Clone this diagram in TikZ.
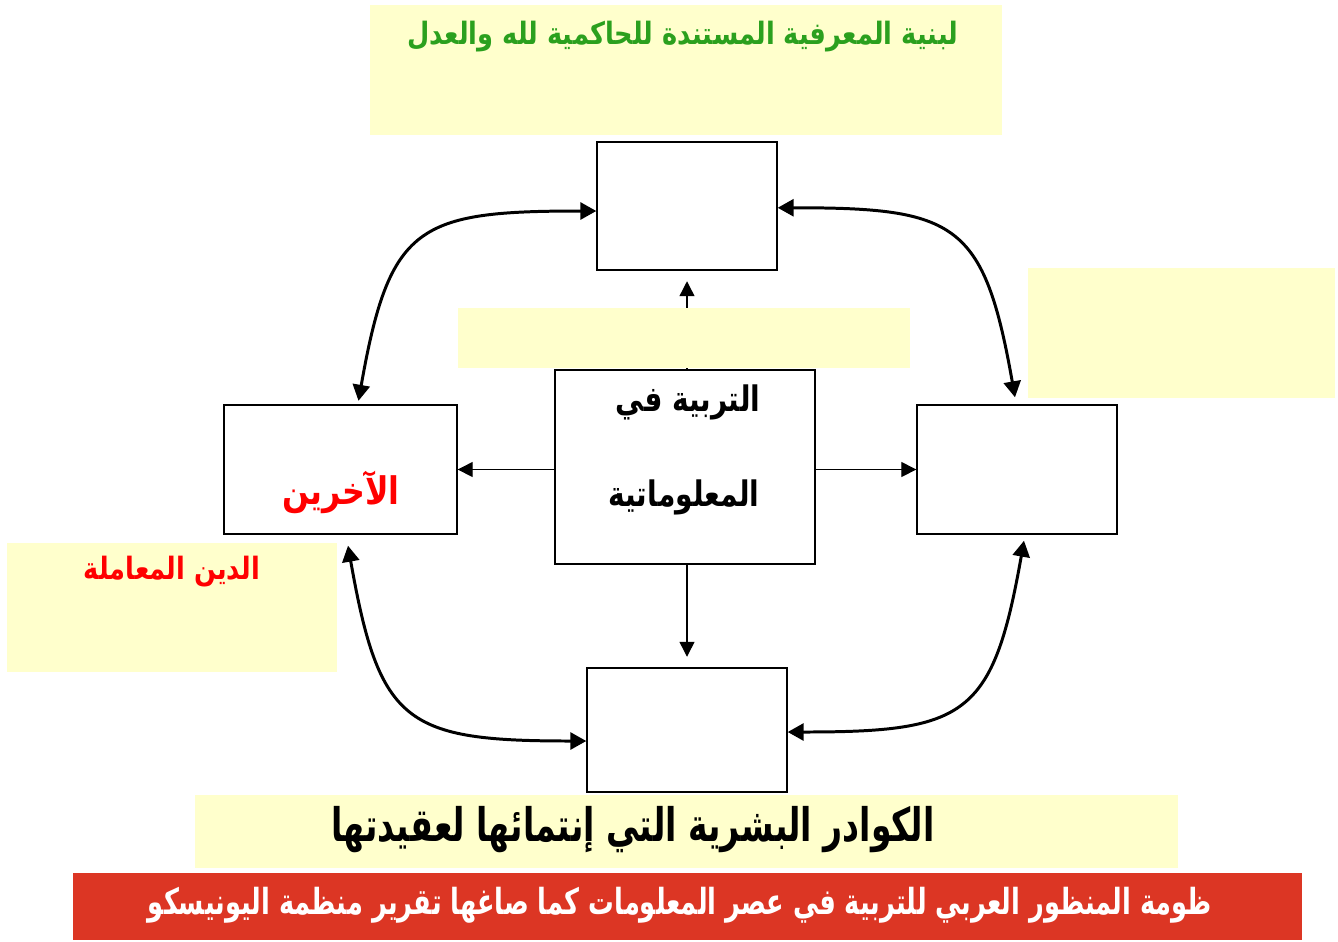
\documentclass[tikz,border=0pt]{standalone}
\usepackage{fontspec}
\usepackage{graphicx}
\usetikzlibrary{arrows.meta,positioning,calc}
\newfontfamily\arabicfont[Script=Arabic]{DejaVu Sans}
\TeXXeTstate=1
\definecolor{notebg}{HTML}{FFFFCC}
\definecolor{bannerred}{HTML}{DC3624}
\definecolor{notegreen}{HTML}{2BA01E}
\tikzstyle{whitebox}=[draw=black,line width=0.8pt,fill=white,inner sep=0pt]
\tikzstyle{notebox}=[fill=notebg,inner sep=0pt]
\tikzstyle{link}=[line width=0.75pt,-{Triangle[length=0.3cm,width=0.3cm]}]
\tikzstyle{twoway}=[line width=1.7pt,{Triangle[length=0.32cm,width=0.34cm]}-{Triangle[length=0.32cm,width=0.34cm]},looseness=1.5]
\tikzstyle{label}=[inner sep=0pt]
% [vertical stretch]{size}{text}
\newcommand{\artext}[3][1.2]{\scalebox{1}[#1]{\fontsize{#2}{#2}\selectfont\arabicfont\bfseries #3}}

\begin{document}
\begin{tikzpicture}[x=0.02cm,y=-0.02cm]
\useasboundingbox (0,0) rectangle (1338,941);
% the five boxes
\node[whitebox,minimum width=3.6cm,minimum height=2.56cm] (top) at (687,206) {};
\node[whitebox,minimum width=5.2cm,minimum height=3.88cm] (centre) at (685,467) {};
\node[whitebox,minimum width=4.66cm,minimum height=2.58cm] (left) at (340.5,469.5) {};
\node[whitebox,minimum width=4cm,minimum height=2.58cm] (right) at (1017,469.5) {};
\node[whitebox,minimum width=4cm,minimum height=2.48cm] (bottom) at (687,730) {};
% straight links from the centre
\draw[link,shorten >=6pt] (centre.north -| top.south) -- (top.south);
\draw[link] (centre.west |- left.east) -- (left.east);
\draw[link] (centre.east |- right.west) -- (right.west);
\draw[link,shorten >=6pt] (centre.south -| bottom.north) -- (bottom.north);
% curved two-way links round the outside
\draw[twoway] (top.west |- 0,211) to[out=180,in=80] ([xshift=0.36cm,yshift=2pt]left.north);
\draw[twoway] ([yshift=-1pt]top.east) to[out=0,in=100] ([xshift=-0.04cm,yshift=0.14cm]right.north);
\draw[twoway] ([xshift=0.15cm,yshift=-0.22cm]left.south) to[out=-80,in=180] ([yshift=-0.22cm]bottom.west);
\draw[twoway] ([xshift=0.14cm,yshift=-0.12cm]right.south) to[out=-100,in=0] ([yshift=-0.04cm]bottom.east);
% yellow notes (drawn over the links)
\node[notebox,minimum width=12.64cm,minimum height=2.6cm] (topnote) at (686,70) {};
\node[notebox,minimum width=9.04cm,minimum height=1.2cm] (midnote) at (684,338) {};
\node[notebox,minimum width=6.14cm,minimum height=2.6cm] (rightnote) at (1181.5,333) {};
\node[notebox,minimum width=6.6cm,minimum height=2.58cm] (leftnote) at (172,607.5) {};
\node[notebox,minimum width=19.66cm,minimum height=1.46cm] (bottomnote) at (686.5,831.5) {};
\node[fill=bannerred,inner sep=0pt,minimum width=24.58cm,minimum height=1.34cm] (banner) at (687.5,906.5) {};
% texts
\node[label,text=notegreen] (toptext) at (683,37) {\artext{14.6}{\beginR لبنية المعرفية المستندة للحاكمية لله والعدل\endR}};
\node[label] (centretext1) at (688,402) {\artext[1.25]{16}{\beginR التربية في\endR}};
\node[label] (centretext2) at (684,497) {\artext[1.25]{16}{\beginR المعلوماتية\endR}};
\node[label,text=red] (lefttext) at (341,492) {\artext{18}{\beginR الآخرين\endR}};
\node[label,text=red] (leftnotetext) at (172,572) {\artext{14.6}{\beginR الدين المعاملة\endR}};
\node[label] (bottomtext) at (633,830) {\artext[1.4]{18.8}{\beginR الكوادر البشرية التي إنتمائها لعقيدتها\endR}};
\node[label,text=white] (bannertext) at (680,905) {\artext[1.4]{14.6}{\beginR ظومة المنظور العربي للتربية في عصر المعلومات كما صاغها تقرير منظمة اليونيسكو\endR}};
\end{tikzpicture}
\end{document}
